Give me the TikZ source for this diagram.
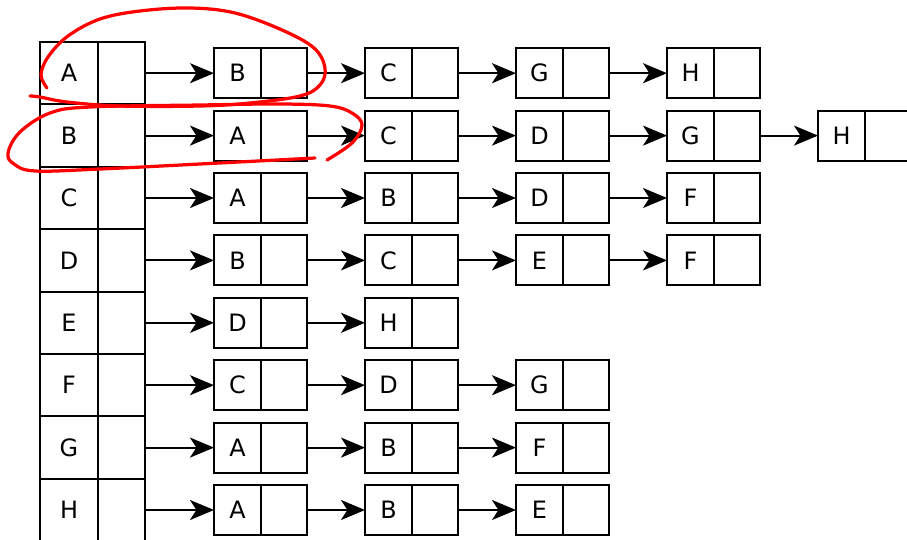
\documentclass[tikz,border=0pt]{standalone}
\usepackage{fontspec}
\setmainfont{DejaVu Sans}
\usetikzlibrary{arrows.meta, positioning}
\definecolor{penred}{HTML}{FF0000}

\tikzset{
  cell/.style={draw=black, line width=1.4pt, inner sep=0pt, outer sep=0pt, font=\fontsize{17}{20}\selectfont},
  headkey/.style={cell, minimum width=1.45cm, minimum height=1.56cm},
  headptr/.style={cell, minimum width=1.175cm, minimum height=1.56cm},
  listkey/.style={cell, minimum width=1.175cm, minimum height=1.25cm},
  listptr/.style={cell, minimum width=1.15cm, minimum height=1.25cm},
  link/.style={line width=1.4pt, -{Stealth[length=6mm, width=5mm, inset=1.6mm]}},
  markup/.style={draw=penred, line width=2.3pt, line cap=round, line join=round}
}

\begin{document}
\begin{tikzpicture}[x=0.025cm, y=-0.025cm]
  \useasboundingbox (0,0) rectangle (907,539);

  % adjacency lists
  \foreach \key/\lst [count=\i] in {A/{B,C,G,H}, B/{A,C,D,G,H}, C/{A,B,D,F}, D/{B,C,E,F},
                                    E/{D,H}, F/{C,D,G}, G/{A,B,F}, H/{A,B,E}} {
    \node[headkey] (k\i-0) at (69, {42+62.4*(\i-0.5)}) {\key};
    \node[headptr, right=0pt of k\i-0] (p\i-0) {};
    \foreach \v [count=\j from 1] in \lst {
      \pgfmathtruncatemacro\prev{\j-1}
      \node[listkey] (k\i-\j) at ({237.5+151*(\j-1)}, {42+62.4*(\i-0.5)}) {\v};
      \node[listptr, right=0pt of k\i-\j] (p\i-\j) {};
      \draw[link] (p\i-\prev.east) -- (k\i-\j.west);
    }
  }

  % hand-drawn marks
  \draw[markup] plot[smooth, tension=0.6] coordinates {(47,88) (41,75) (48,57) (68,36) (100,19) (140,11)
    (190,8) (235,13) (282,30) (314,48) (325,68) (320,85) (300,96) (250,103) (200,106) (120,106) (67,102) (40,97) (30,96)};
  \draw[markup] plot[smooth, tension=0.6] coordinates {(327,160) (352,143) (362,125) (352,113) (330,106)
    (280,104) (200,105) (90,107) (50,113) (20,132) (8,153) (14,164) (35,171) (100,169) (200,164) (315,158)};
\end{tikzpicture}
\end{document}
